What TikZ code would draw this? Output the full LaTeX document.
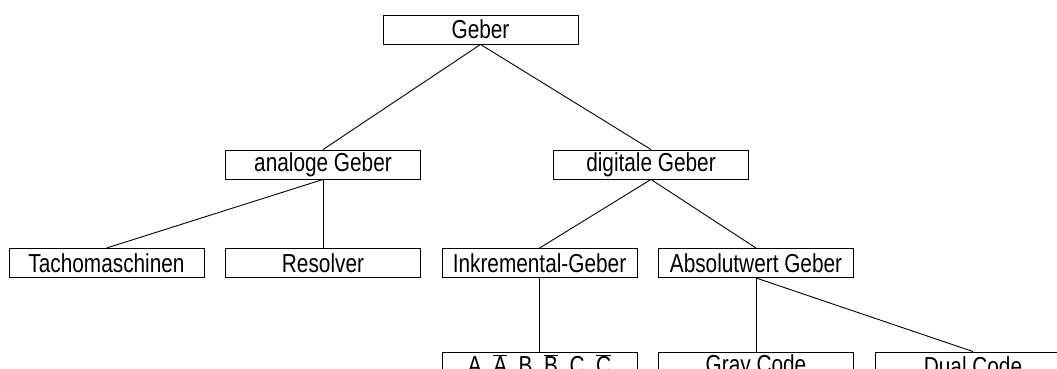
\documentclass[tikz,border=0pt]{standalone}
\usepackage{fontspec}
\setmainfont{Liberation Sans}[FakeStretch=0.80]
\begin{document}
\begin{tikzpicture}[x=1pt,y=-1pt,
  box/.style={draw, line width=0.9pt, minimum width=195pt, minimum height=29pt, inner sep=0pt,
    font=\fontsize{26}{28}\selectfont},
  conn/.style={line width=0.9pt}]
\useasboundingbox (0,0) rectangle (1057,369);
\clip (0,0) rectangle (1057,369);
\node[box] (geber) at (480.5,29.5) {Geber};
\node[box] (analog) at (323,164.5) {analoge Geber};
\node[box] (digital) at (651,164.5) {digitale Geber};
\node[box] (tacho) at (106.5,263) {Tachomaschinen};
\node[box] (resolver) at (323,263) {Resolver};
\node[box] (inkr) at (539.5,263) {Inkremental-Geber};
\node[box] (abs) at (756,263) {Absolutwert Geber};
\node[box] (abc) at (539.5,366.5) {A, $\overline{\mbox{A}}$, B, $\overline{\mbox{B}}$, C, $\overline{\mbox{C}}$};
\node[box] (gray) at (756,366.5) {Gray Code};
\node[box] (dual) at (973,366.5) {Dual Code};
\draw[conn] (geber.south) -- (analog.north);
\draw[conn] (geber.south) -- (digital.north);
\draw[conn] (analog.south) -- (tacho.north);
\draw[conn] (analog.south) -- (resolver.north);
\draw[conn] (digital.south) -- (inkr.north);
\draw[conn] (digital.south) -- (abs.north);
\draw[conn] (inkr.south) -- (abc.north);
\draw[conn] (abs.south) -- (gray.north);
\draw[conn] (abs.south) -- (dual.north);
\end{tikzpicture}
\end{document}
